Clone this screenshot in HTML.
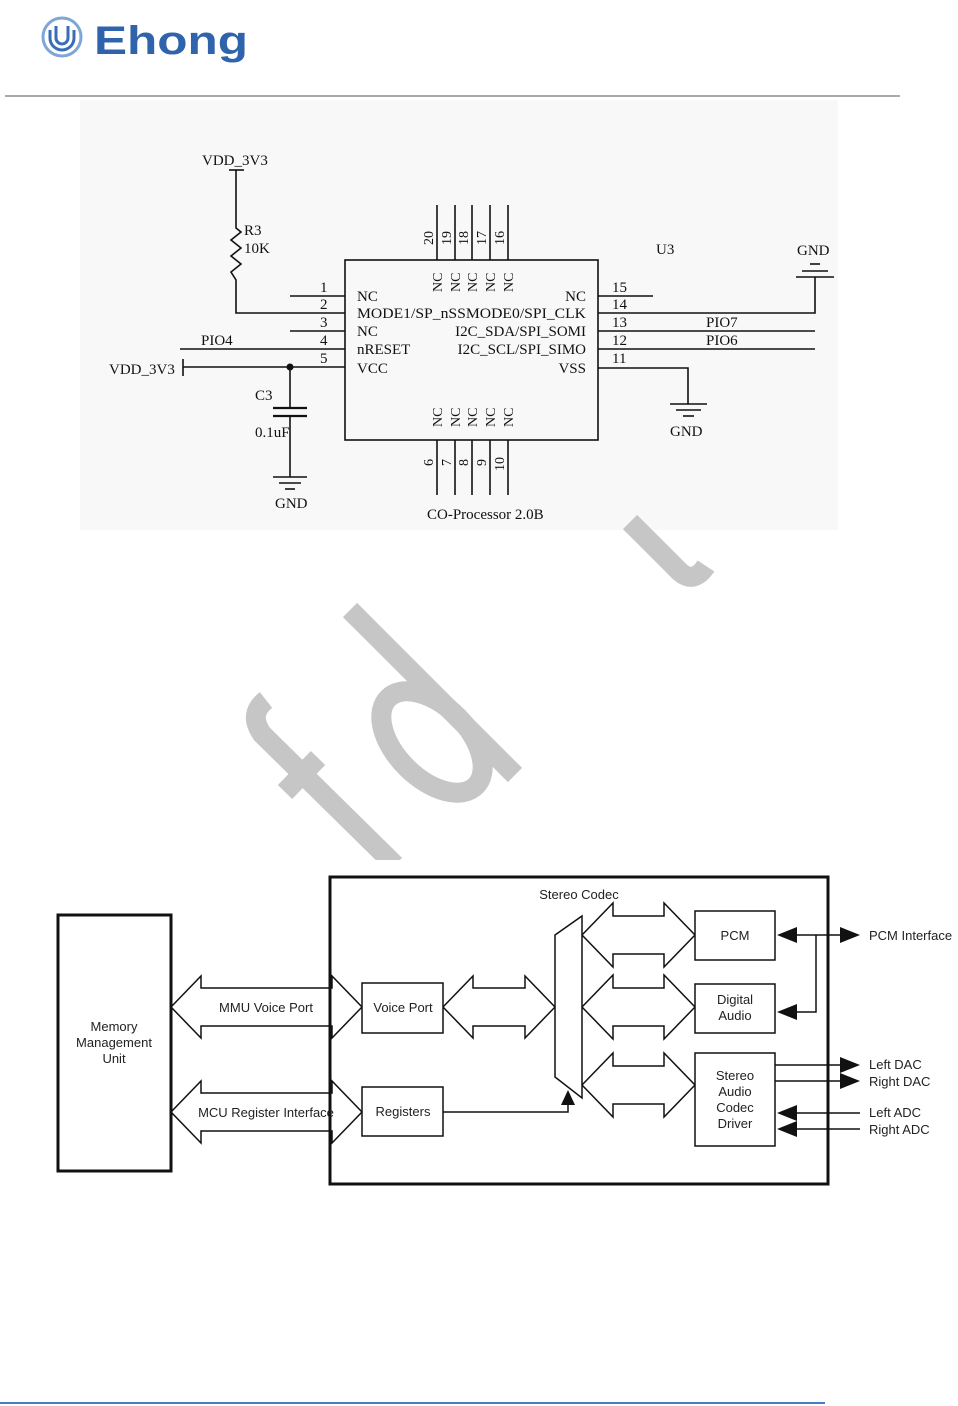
<!DOCTYPE html>
<html><head><meta charset="utf-8"><style>
html,body{margin:0;padding:0;background:#fff;}
svg{display:block;}
.s{font-family:"Liberation Serif",serif;font-size:15px;fill:#111;}
.b{font-family:"Liberation Sans",sans-serif;font-size:13px;fill:#222;}
</style></head><body>
<svg width="958" height="1406" viewBox="0 0 958 1406" xmlns="http://www.w3.org/2000/svg">
<!-- header -->
<g fill="none" stroke="#3a6db5" stroke-width="3">
<circle cx="62" cy="37" r="19" stroke="#7fa6d6"/>
<path d="M50 30 v8 a12 12 0 0 0 24 0 v-8"/>
<path d="M56 26 v12 a6 6 0 0 0 12 0 v-12"/>
</g>
<text x="94" y="54" font-family="Liberation Sans,sans-serif" font-weight="bold" font-size="40" fill="#2f64ad" textLength="154" lengthAdjust="spacingAndGlyphs">Ehong</text>
<line x1="5" y1="96" x2="900" y2="96" stroke="#555" stroke-width="1"/>

<!-- schematic bg -->
<rect x="80" y="100" width="758" height="430" fill="#f8f8f8"/>

<!-- watermark -->
<g stroke="#c6c6c6" stroke-width="20" fill="none">
<line x1="350" y1="610" x2="515" y2="775"/>
<ellipse cx="432" cy="742" rx="62" ry="36" transform="rotate(45 432 742)"/>
<path d="M266 700 q-18 14 -4 34 L395 865"/>
<line x1="285" y1="792" x2="318" y2="758"/>
<path d="M630 522 L680 572 q14 12 26 -6"/>
</g>
<rect x="0" y="860" width="958" height="20" fill="#fff"/>

<!-- schematic -->
<g stroke="#111" stroke-width="1.6" fill="none">
<rect x="345" y="260" width="253" height="180"/>
<line x1="229" y1="170" x2="244" y2="170"/>
<polyline points="236,170 236,228 241,232 231,240 241,248 231,256 241,264 231,272 236,280 236,313 345,313"/>
<line x1="290" y1="296" x2="345" y2="296"/>
<line x1="290" y1="331" x2="345" y2="331"/>
<line x1="180" y1="349" x2="345" y2="349"/>
<line x1="183" y1="367" x2="345" y2="367"/>
<line x1="183" y1="359" x2="183" y2="376"/>
<line x1="290" y1="367" x2="290" y2="408"/>
<line x1="273" y1="408" x2="307" y2="408" stroke-width="2.2"/>
<line x1="273" y1="416" x2="307" y2="416" stroke-width="2.2"/>
<line x1="290" y1="416" x2="290" y2="477"/>
<line x1="273" y1="477" x2="307" y2="477"/>
<line x1="279" y1="483" x2="301" y2="483"/>
<line x1="285" y1="489" x2="295" y2="489"/>
<line x1="598" y1="296" x2="653" y2="296"/>
<polyline points="598,313 815,313 815,277"/>
<line x1="598" y1="331" x2="815" y2="331"/>
<line x1="598" y1="349" x2="815" y2="349"/>
<polyline points="598,368 688,368 688,404"/>
<line x1="670" y1="404" x2="707" y2="404"/>
<line x1="676" y1="410" x2="701" y2="410"/>
<line x1="683" y1="416" x2="694" y2="416"/>
<line x1="796" y1="277" x2="834" y2="277"/>
<line x1="802" y1="271" x2="828" y2="271"/>
<line x1="810" y1="264" x2="820" y2="264"/>
<line x1="437" y1="205" x2="437" y2="260"/><line x1="455" y1="205" x2="455" y2="260"/><line x1="472" y1="205" x2="472" y2="260"/><line x1="490" y1="205" x2="490" y2="260"/><line x1="508" y1="205" x2="508" y2="260"/>
<line x1="437" y1="440" x2="437" y2="495"/><line x1="455" y1="440" x2="455" y2="495"/><line x1="472" y1="440" x2="472" y2="495"/><line x1="490" y1="440" x2="490" y2="495"/><line x1="508" y1="440" x2="508" y2="495"/>
</g>
<circle cx="290" cy="367" r="3.5" fill="#111"/>
<g class="s">
<text x="202" y="165">VDD_3V3</text>
<text x="244" y="235">R3</text><text x="244" y="253">10K</text>
<text x="320" y="292">1</text><text x="320" y="309">2</text><text x="320" y="327">3</text><text x="320" y="345">4</text><text x="320" y="363">5</text>
<text x="357" y="301">NC</text><text x="357" y="318" textLength="229" lengthAdjust="spacingAndGlyphs">MODE1/SP_nSSMODE0/SPI_CLK</text><text x="357" y="336">NC</text><text x="357" y="354">nRESET</text><text x="357" y="373">VCC</text>
<text x="586" y="301" text-anchor="end">NC</text><text x="586" y="336" text-anchor="end">I2C_SDA/SPI_SOMI</text><text x="586" y="354" text-anchor="end">I2C_SCL/SPI_SIMO</text><text x="586" y="373" text-anchor="end">VSS</text>
<text x="612" y="292">15</text><text x="612" y="309">14</text><text x="612" y="327">13</text><text x="612" y="345">12</text><text x="612" y="363">11</text>
<text x="706" y="327">PIO7</text><text x="706" y="345">PIO6</text>
<text x="201" y="345">PIO4</text>
<text x="109" y="374">VDD_3V3</text>
<text x="255" y="400">C3</text><text x="255" y="437">0.1uF</text>
<text x="275" y="508">GND</text><text x="670" y="436">GND</text><text x="797" y="255">GND</text>
<text x="656" y="254">U3</text>
<text x="427" y="519">CO-Processor 2.0B</text>
<g font-size="14">
<text transform="translate(433,245) rotate(-90)">20</text><text transform="translate(451,245) rotate(-90)">19</text><text transform="translate(468,245) rotate(-90)">18</text><text transform="translate(486,245) rotate(-90)">17</text><text transform="translate(504,245) rotate(-90)">16</text>
<text transform="translate(442,292) rotate(-90)">NC</text><text transform="translate(460,292) rotate(-90)">NC</text><text transform="translate(477,292) rotate(-90)">NC</text><text transform="translate(495,292) rotate(-90)">NC</text><text transform="translate(513,292) rotate(-90)">NC</text>
<text transform="translate(442,427) rotate(-90)">NC</text><text transform="translate(460,427) rotate(-90)">NC</text><text transform="translate(477,427) rotate(-90)">NC</text><text transform="translate(495,427) rotate(-90)">NC</text><text transform="translate(513,427) rotate(-90)">NC</text>
<text transform="translate(433,466) rotate(-90)">6</text><text transform="translate(451,466) rotate(-90)">7</text><text transform="translate(468,466) rotate(-90)">8</text><text transform="translate(486,466) rotate(-90)">9</text><text transform="translate(504,471) rotate(-90)">10</text>
</g>
</g>

<!-- block diagram -->
<g stroke="#111" fill="#fff" stroke-width="1.5">
<polygon points="171,1007 201,976 201,988 332,988 332,976 362,1007 332,1038 332,1026 201,1026 201,1038"/>
<polygon points="171,1112 201,1081 201,1093 332,1093 332,1081 362,1112 332,1143 332,1131 201,1131 201,1143"/>
<polygon points="443,1007 473,976 473,988 525,988 525,976 555,1007 525,1038 525,1026 473,1026 473,1038"/>
<polygon points="582,935 613,903 613,916 664,916 664,903 695,935 664,967 664,954 613,954 613,967"/>
<polygon points="582,1007 613,975 613,988 664,988 664,975 695,1007 664,1039 664,1026 613,1026 613,1039"/>
<polygon points="582,1085 613,1053 613,1066 664,1066 664,1053 695,1085 664,1117 664,1104 613,1104 613,1117"/>
<polygon points="555,935 582,916 582,1098 555,1077"/>
<rect x="362" y="983" width="81" height="50"/>
<rect x="362" y="1087" width="81" height="49"/>
<rect x="695" y="911" width="80" height="49"/>
<rect x="695" y="984" width="80" height="49"/>
<rect x="695" y="1053" width="80" height="93"/>
</g>
<g fill="none" stroke="#111">
<rect x="58" y="915" width="113" height="256" stroke-width="3"/>
<rect x="330" y="877" width="498" height="307" stroke-width="3"/>
<g stroke-width="1.5">
<polyline points="443,1112 568,1112 568,1100"/>
<line x1="790" y1="935" x2="845" y2="935"/>
<polyline points="816,935 816,1012 790,1012"/>
<line x1="775" y1="1065" x2="845" y2="1065"/>
<line x1="775" y1="1081" x2="845" y2="1081"/>
<line x1="790" y1="1113" x2="860" y2="1113"/>
<line x1="790" y1="1129" x2="860" y2="1129"/>
</g>
</g>
<g fill="#111">
<polygon points="568,1090 561,1105 575,1105"/>
<polygon points="777,935 797,927 797,943"/>
<polygon points="860,935 840,927 840,943"/>
<polygon points="777,1012 797,1004 797,1020"/>
<polygon points="860,1065 840,1057 840,1073"/>
<polygon points="860,1081 840,1073 840,1089"/>
<polygon points="777,1113 797,1105 797,1121"/>
<polygon points="777,1129 797,1121 797,1137"/>
</g>
<g class="b" text-anchor="middle">
<text x="114" y="1031">Memory</text><text x="114" y="1047">Management</text><text x="114" y="1063">Unit</text>
<text x="266" y="1012">MMU Voice Port</text>
<text x="266" y="1117">MCU Register Interface</text>
<text x="403" y="1012">Voice Port</text>
<text x="403" y="1116">Registers</text>
<text x="579" y="899">Stereo Codec</text>
<text x="735" y="940">PCM</text>
<text x="735" y="1004">Digital</text><text x="735" y="1020">Audio</text>
<text x="735" y="1080">Stereo</text><text x="735" y="1096">Audio</text><text x="735" y="1112">Codec</text><text x="735" y="1128">Driver</text>
</g>
<g class="b">
<text x="869" y="940">PCM Interface</text>
<text x="869" y="1069">Left DAC</text><text x="869" y="1086">Right DAC</text>
<text x="869" y="1117">Left ADC</text><text x="869" y="1134">Right ADC</text>
</g>
<line x1="0" y1="1403" x2="825" y2="1403" stroke="#4a7cc0" stroke-width="2"/>
</svg>
</body></html>
